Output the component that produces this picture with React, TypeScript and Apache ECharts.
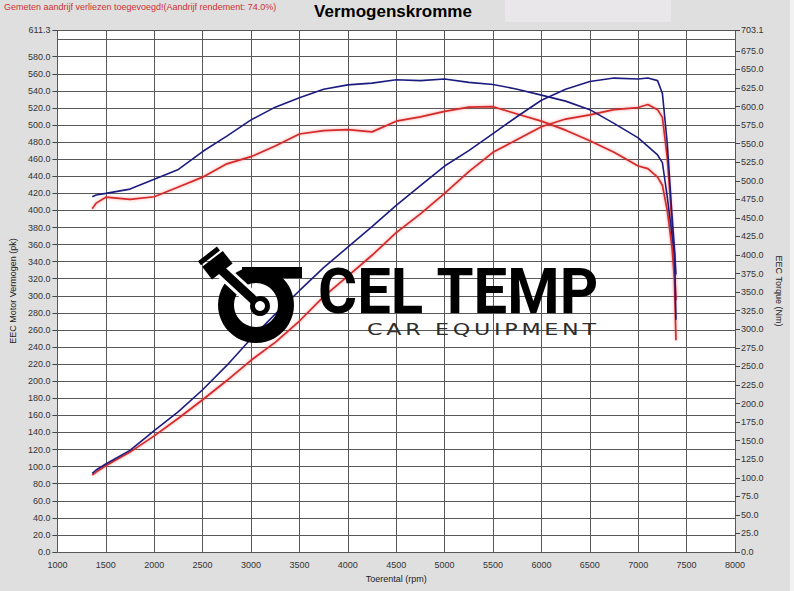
import React, { useEffect, useRef } from "react";
import * as echarts from "echarts";

// Engine speed (rpm) shared by all four curves
const RPM = [1360, 1400, 1500, 1750, 2000, 2250, 2500, 2750, 3000, 3250, 3500, 3750, 4000, 4250, 4500, 4750, 5000, 5250, 5500, 5750, 6000, 6250, 6500, 6750, 7000, 7100, 7200, 7250, 7300, 7350, 7375, 7390];

// Power (pk) – left axis
const POWER_BLUE = [92, 96, 103, 119, 142, 164.5, 190, 218.5, 249.7, 278.5, 306, 333, 357, 381, 406, 429, 452, 470, 490, 510, 529, 542, 551, 555, 554, 555, 552, 537, 479, 393, 355, 325];
const POWER_RED = [90, 93.5, 101, 117, 136, 156.6, 178.3, 200.8, 224.5, 245.5, 270.5, 299, 323, 347.5, 374, 396, 420, 445.5, 468, 483, 498, 507, 512, 518, 520.5, 524, 518, 509, 462, 384, 330, 295];

// Torque (Nm) – right axis
const TORQUE_BLUE = [478.5, 480.8, 483, 488.8, 502, 515.3, 539.4, 560.1, 582, 599.2, 611.9, 623.4, 629.2, 631.5, 636.1, 634.9, 637.2, 632.6, 629.7, 623.4, 615.4, 607.3, 595.8, 577.4, 557.8, 546.3, 534.8, 524.5, 478.5, 426.7, 402.6, 312.9];
const TORQUE_RED = [462.4, 469.9, 477.9, 475.0, 478.5, 491.7, 504.9, 522.8, 532.5, 546.9, 563.0, 567.6, 568.8, 565.9, 580.3, 586.0, 593.5, 599.2, 599.8, 590.0, 580.3, 568.2, 553.8, 538.3, 519.9, 516.4, 504.9, 494.0, 460.1, 409.5, 365.8, 285.2];

// Tick labels
const LEFT_TICKS = [0, 20, 40, 60, 80, 100, 120, 140, 160, 180, 200, 220, 240, 260, 280, 300, 320, 340, 360, 380, 400, 420, 440, 460, 480, 500, 520, 540, 560, 580, 611.3];
const RIGHT_TICKS = [0, 25, 50, 75, 100, 125, 150, 175, 200, 225, 250, 275, 300, 325, 350, 375, 400, 425, 450, 475, 500, 525, 550, 575, 600, 625, 650, 675, 703.1];

const TITLE = "Vermogenskromme";
const NOTE = "Gemeten aandrijf verliezen toegevoegd!(Aandrijf rendement: 74.0%)";
const LOGO_MAIN = "CEL TEMP";
const LOGO_SUB = "CAR EQUIPMENT";

const FONT = "'Liberation Sans', Arial, sans-serif";
const BLUE = "#1c1c80";
const RED = "#d42a2a";
const GRID = "#585858";

// approximate advance widths (em) of DejaVu Sans caps, for letter-spaced logo text
const W: Record<string, number> = { C: 0.698, A: 0.684, R: 0.695, " ": 0.318, E: 0.632, Q: 0.787, U: 0.732, I: 0.295, P: 0.603, M: 0.863, N: 0.748, T: 0.611 };

export default function App() {
  const ref = useRef<HTMLDivElement>(null);

  useEffect(() => {
    if (!ref.current) return;
    const chart = echarts.init(ref.current, undefined, { renderer: "svg" });

    const pair = (vals: number[]) => RPM.map((r, i) => [r, vals[i]]);

    const subFs = 16.5;
    const subScale = 1.35;
    const chars = LOGO_SUB.split("");
    const natural = chars.reduce((s, c) => s + (W[c] || 0.65) * subFs * subScale, 0);
    const spacing = (229 - natural) / (chars.length - 1);
    let cx = 367;
    const subChars = chars.map((ch) => {
      const el = {
        type: "text",
        z: 100,
        x: cx,
        y: 330,
        scaleX: subScale,
        style: {
          text: ch,
          fill: "#2e2e2e",
          font: `${subFs}px 'DejaVu Sans', sans-serif`,
          textAlign: "left",
          textVerticalAlign: "middle",
        },
      };
      cx += (W[ch] || 0.65) * subFs * subScale + spacing;
      return el;
    });

    const option: any = {
      animation: false,
      backgroundColor: "#dfdfdf",
      grid: {
        left: 46,
        right: 59,
        top: 30,
        bottom: 39,
        show: true,
        backgroundColor: "#ffffff",
        borderWidth: 0,
      },
      xAxis: {
        type: "value",
        min: 1000,
        max: 8000,
        interval: 500,
        axisLine: { show: false },
        axisTick: { show: false },
        axisLabel: { fontSize: 9, color: "#333", fontFamily: FONT, margin: 8, formatter: (v: number) => String(v) },
        splitLine: { show: true, lineStyle: { color: GRID, width: 1 } },
        name: "Toerental (rpm)",
        nameLocation: "middle",
        nameGap: 22,
        nameTextStyle: { fontSize: 9, color: "#222", fontFamily: FONT },
      },
      yAxis: [
        {
          type: "value",
          position: "left",
          min: 0,
          max: 611.3,
          interval: 20,
          axisLine: { show: false },
          axisTick: {
            show: true,
            length: 5,
            customValues: LEFT_TICKS,
            lineStyle: { color: "#444" },
          },
          axisLabel: {
            customValues: LEFT_TICKS,
            formatter: (v: number) => v.toFixed(1),
            fontSize: 9,
            color: "#333",
            fontFamily: FONT,
            margin: 7,
          },
          splitLine: { show: false },
          name: "EEC Motor Vermogen (pk)",
          nameLocation: "middle",
          nameRotate: 90,
          nameGap: 34,
          nameTextStyle: { fontSize: 9, color: "#222", fontFamily: FONT },
        },
        {
          type: "value",
          position: "right",
          min: 0,
          max: 703.1,
          interval: 25,
          axisLine: { show: false },
          axisTick: {
            show: true,
            length: 5,
            customValues: RIGHT_TICKS,
            lineStyle: { color: "#444" },
          },
          axisLabel: {
            customValues: RIGHT_TICKS,
            formatter: (v: number) => v.toFixed(1),
            fontSize: 9,
            color: "#333",
            fontFamily: FONT,
            margin: 6,
          },
          splitLine: { show: false },
          name: "EEC Torque (Nm)",
          nameLocation: "middle",
          nameRotate: -90,
          nameGap: 28,
          nameTextStyle: { fontSize: 9, color: "#222", fontFamily: FONT },
        },
        {
          type: "value",
          position: "left",
          min: 0,
          max: 611.3,
          interval: 20,
          axisLine: { show: false },
          axisTick: { show: false },
          axisLabel: { show: false },
          splitLine: { show: true, lineStyle: { color: GRID, width: 1 } },
        },
      ],
      series: [
        {
          name: "Vermogen gemeten",
          type: "line",
          yAxisIndex: 0,
          data: pair(POWER_RED),
          showSymbol: false,
          lineStyle: { color: RED, width: 1.7, shadowColor: "rgba(240,80,80,0.6)", shadowBlur: 3 },
          z: 2,
        },
        {
          name: "Koppel gemeten",
          type: "line",
          yAxisIndex: 1,
          data: pair(TORQUE_RED),
          showSymbol: false,
          lineStyle: { color: RED, width: 1.7, shadowColor: "rgba(240,80,80,0.6)", shadowBlur: 3 },
          z: 2,
        },
        {
          name: "Vermogen",
          type: "line",
          yAxisIndex: 0,
          data: pair(POWER_BLUE),
          showSymbol: false,
          lineStyle: { color: BLUE, width: 1.6 },
          z: 3,
        },
        {
          name: "Koppel",
          type: "line",
          yAxisIndex: 1,
          data: pair(TORQUE_BLUE),
          showSymbol: false,
          lineStyle: { color: BLUE, width: 1.6 },
          z: 3,
        },
      ],
      graphic: [
        { type: "rect", z: 0, shape: { x: 505, y: 0, width: 166, height: 22 }, style: { fill: "#e9e7e9" } },
        { type: "rect", z: 0, shape: { x: 790, y: 0, width: 4, height: 591 }, style: { fill: "#f2f2f2" } },
        {
          type: "text",
          z: 100,
          x: 393,
          y: 11,
          style: { text: TITLE, font: `bold 17px ${FONT}`, fill: "#000", textAlign: "center", textVerticalAlign: "middle" },
        },
        {
          type: "text",
          z: 100,
          x: 4,
          y: 7,
          style: { text: NOTE, font: `9px ${FONT}`, fill: "#d03030", textAlign: "left", textVerticalAlign: "middle" },
        },
        // Logo: ring with flat top bar
        { type: "ring", z: 100, shape: { cx: 256, cy: 305, r: 38, r0: 22 }, style: { fill: "#000" } },
        { type: "rect", z: 100, shape: { x: 242, y: 267, width: 60, height: 11 }, style: { fill: "#000" } },
        // rod outline and rod
        { type: "line", z: 101, shape: { x1: 222, y1: 271, x2: 258, y2: 304 }, style: { stroke: "#fff", lineWidth: 15 } },
        { type: "line", z: 102, shape: { x1: 218, y1: 267, x2: 259, y2: 305 }, style: { stroke: "#000", lineWidth: 9 } },
        { type: "circle", z: 102, shape: { cx: 260, cy: 306, r: 10 }, style: { fill: "#000" } },
        { type: "circle", z: 103, shape: { cx: 260, cy: 306, r: 5 }, style: { fill: "#fff" } },
        // piston
        {
          type: "group",
          z: 102,
          x: 218,
          y: 266,
          rotation: 0.66,
          children: [
            { type: "rect", z: 102, shape: { x: -13, y: -16, width: 24, height: 5 }, style: { fill: "#000" } },
            { type: "rect", z: 102, shape: { x: -13, y: -9, width: 26, height: 16 }, style: { fill: "#000" } },
          ],
        },
        {
          type: "text",
          z: 100,
          x: 318,
          y: 291,
          scaleX: 0.95,
          style: {
            text: LOGO_MAIN,
            font: "bold 63px Roboto, 'Noto Sans', sans-serif",
            fill: "#000",
            textAlign: "left",
            textVerticalAlign: "middle",
          },
        },
        ...subChars,
      ],
    };

    chart.setOption(option);
    return () => chart.dispose();
  }, []);

  return <div ref={ref} style={{ position: "absolute", left: 0, top: 0, width: 794, height: 591 }} />;
}
